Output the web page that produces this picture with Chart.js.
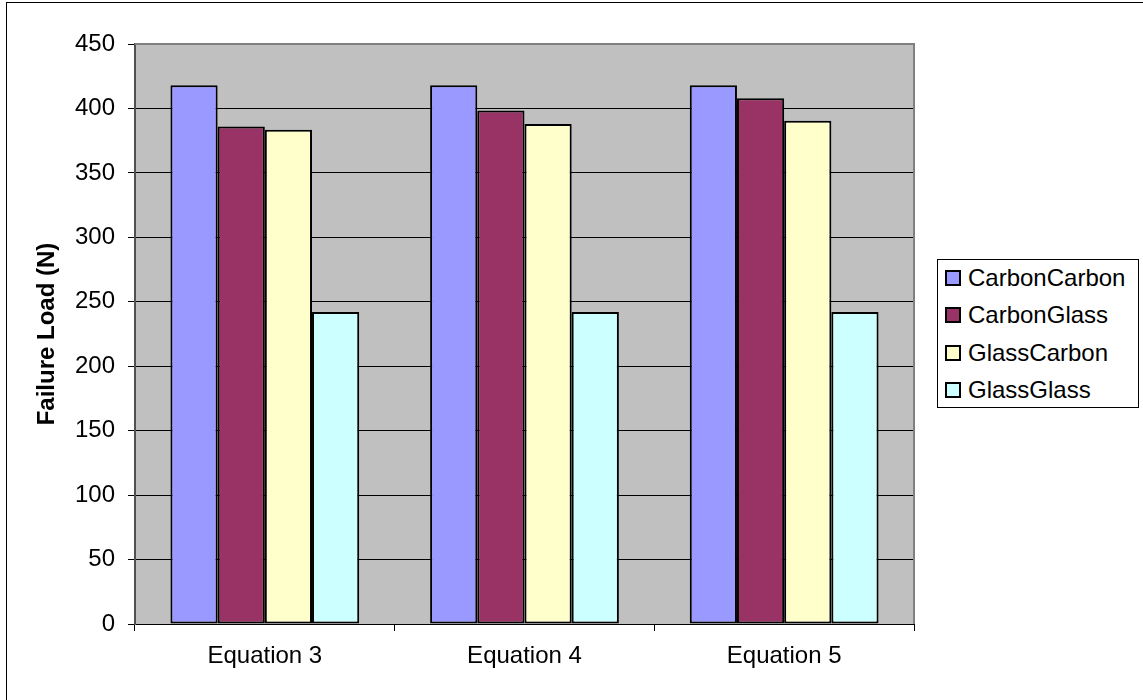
<!DOCTYPE html>
<html>
<head>
<meta charset="utf-8">
<script src="https://cdn.jsdelivr.net/npm/chart.js@4.4.1/dist/chart.umd.min.js"></script>
<style>
  html, body { margin: 0; padding: 0; background: #fff; overflow: hidden; }
  #wrap { position: relative; width: 1143px; height: 700px; }
  #frame { position: absolute; left: 6px; top: 2px; width: 1300px; height: 900px; border: 1px solid #000; pointer-events: none; }
  #legend { position: absolute; left: 937px; top: 259px; width: 200px; height: 147px; border: 1px solid #000; background: #fff;
            font-family: "Liberation Sans", Arial, sans-serif; font-size: 24px; color: #000; }
  .item { position: absolute; left: 7px; height: 28px; line-height: 28px; display: flex; align-items: center; white-space: nowrap; }
  .sw { width: 12px; height: 12px; border: 2px solid #000; margin-right: 7px; }
</style>
</head>
<body>
<div id="wrap">
  <canvas id="chart" width="1143" height="700"></canvas>
  <div id="legend"></div>
  <div id="frame"></div>
</div>
<script>
const categories = ['Equation 3', 'Equation 4', 'Equation 5'];
const seriesNames = ['CarbonCarbon', 'CarbonGlass', 'GlassCarbon', 'GlassGlass'];
const carbonCarbon = [418, 418, 418];
const carbonGlass = [386, 398.5, 408];
const glassCarbon = [383.5, 388, 390.5];
const glassGlass = [242, 242, 242];
const yTicks = [0, 50, 100, 150, 200, 250, 300, 350, 400, 450];

const colors = ['#9999FF', '#993366', '#FFFFCC', '#CCFFFF'];
const FONT = '"Liberation Sans", Arial, sans-serif';

// grey plot area + grey top/right frame like the Excel original
const plotBg = {
  id: 'plotBg',
  beforeDraw(chart) {
    const { ctx, chartArea: a } = chart;
    ctx.save();
    ctx.fillStyle = '#C0C0C0';
    ctx.fillRect(a.left, a.top, a.right - a.left, a.bottom - a.top);
    ctx.restore();
  },
  afterDraw(chart) {
    const { ctx, chartArea: a } = chart;
    ctx.save();
    ctx.strokeStyle = '#808080';
    ctx.lineWidth = 2;
    ctx.beginPath();
    ctx.moveTo(a.left, a.top);
    ctx.lineTo(a.right, a.top);
    ctx.lineTo(a.right, a.bottom);
    ctx.stroke();
    ctx.restore();
  }
};

const datasets = [carbonCarbon, carbonGlass, glassCarbon, glassGlass].map((data, i) => ({
  label: seriesNames[i],
  data,
  backgroundColor: colors[i],
  borderColor: '#000',
  borderWidth: 2,
  borderSkipped: false,
  categoryPercentage: 0.727,
  barPercentage: 1
}));

const chart = new Chart(document.getElementById('chart').getContext('2d'), {
  type: 'bar',
  data: { labels: categories, datasets },
  options: {
    responsive: false,
    animation: false,
    layout: { padding: { top: 44, right: 229, left: 0, bottom: 0 } },
    plugins: { legend: { display: false }, tooltip: { enabled: false } },
    scales: {
      x: {
        grid: { drawOnChartArea: false, offset: true, tickLength: 7, color: '#000' },
        border: { color: '#000', width: 1 },
        ticks: { color: '#000', font: { family: FONT, size: 24 }, padding: 11 },
        afterFit: s => { s.height = 76; }
      },
      y: {
        min: 0,
        max: 450,
        afterBuildTicks: s => { s.ticks = yTicks.map(v => ({ value: v })); },
        grid: { color: '#000', tickLength: 7 },
        border: { color: '#505050', width: 2 },
        ticks: { color: '#000', font: { family: FONT, size: 24 }, padding: 13 },
        title: {
          display: true,
          text: 'Failure Load (N)',
          color: '#000',
          font: { family: FONT, size: 24, weight: 'bold' },
          padding: { top: 33, bottom: 0 }
        },
        afterFit: s => { s.width = 135; }
      }
    }
  },
  plugins: [plotBg]
});

// legend box built from the chart's datasets
const legend = document.getElementById('legend');
const rowTops = [4, 41, 79, 116];
chart.data.datasets.forEach((ds, i) => {
  const item = document.createElement('div');
  item.className = 'item';
  item.style.top = rowTops[i] + 'px';
  item.innerHTML = `<span class="sw" style="background:${ds.backgroundColor}"></span><span>${ds.label}</span>`;
  legend.appendChild(item);
});
</script>
</body>
</html>
